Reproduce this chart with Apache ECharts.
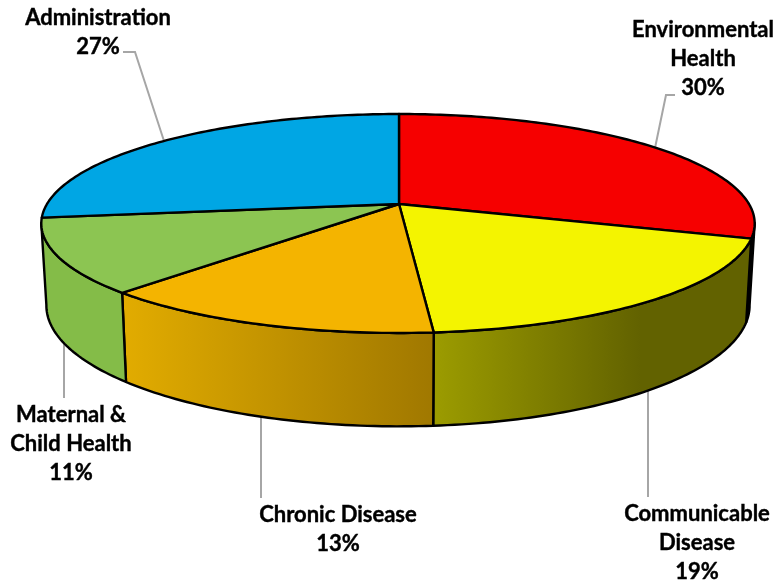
<!DOCTYPE html>
<html>
<head>
<meta charset="utf-8">
<style>
  html, body { margin: 0; padding: 0; background: #fff; }
  #chart { width: 782px; height: 587px; }
</style>
<script src="https://cdn.jsdelivr.net/npm/echarts@6/dist/echarts.min.js"></script>
</head>
<body>
<div id="chart"></div>
<script>
  const categories = ['Environmental\nHealth', 'Communicable\nDisease', 'Chronic Disease', 'Maternal &\nChild Health', 'Administration']
  // read from the slice edges, the labels show these rounded
  const shares = [30, 18.7, 13.3, 11, 27]
  const topColors = ['#f60000', '#f4f400', '#f4b400', '#8cc552', '#00a6e4']
  // wall shading, left colour then right colour
  const wallColors = [['#5c0000', '#5c0000'], ['#9c9c00', '#626200'], ['#e2ac00', '#a07800'], ['#84bc48', '#84bc48'], ['#007aa8', '#007aa8']]

  // the picture is a tilted pie in perspective, ECharts has no such thing so it is projected by hand
  const PERSP = 0.178
  const project = (deg, rim) => {
    let a = deg * Math.PI / 180
    let x = Math.sin(a)
    let y = -Math.cos(a)
    let s = 1 / (1 - PERSP * y)
    return rim === 'bottom'
      ? [399 + (x > 0 ? 345 : 347) * x * s, 284 + 117 * y * s]
      : [399 + (x > 0 ? 350 : 352) * x * s, 204 + 106 * y * s]
  }
  const arc = (from, to, rim) => {
    let pts = []
    let n = Math.max(2, Math.ceil(Math.abs(to - from)))
    for (let i = 0; i <= n; i++) pts.push(project(from + (to - from) * i / n, rim))
    return pts
  }

  let sum = shares.reduce((a, b) => a + b, 0)
  let acc = 0
  const sliceRows = shares.map((v, i) => {
    let row = [acc, acc + v, i]
    acc += v
    return row
  })

  // only this part of the rim faces the viewer
  const WALL_FROM = 100
  const WALL_TO = 260

  const renderSlice = (params, api) => {
    let start = api.value(0) / sum * 360
    let end = api.value(1) / sum * 360
    let idx = api.value(2)
    let children = []
    let from = Math.max(start, WALL_FROM)
    let to = Math.min(end, WALL_TO)
    if (to > from) {
      let wall = arc(from, to, 'top').concat(arc(to, from, 'bottom'))
      let xs = wall.map(p => p[0])
      let x1 = Math.min.apply(Math, xs)
      let x2 = idx === 1 ? 640 : Math.max.apply(Math, xs)
      children.push({
        type: 'polygon',
        shape: { points: wall },
        style: {
          fill: new echarts.graphic.LinearGradient(x1, 0, x2, 0, [
            { offset: 0, color: wallColors[idx][0] },
            { offset: 1, color: wallColors[idx][1] }
          ], true),
          stroke: '#000',
          lineWidth: 2.4,
          lineJoin: 'round'
        }
      })
    }
    children.push({
      type: 'polygon',
      shape: { points: [[399, 204]].concat(arc(start, end, 'top')) },
      style: { fill: topColors[idx], stroke: '#000', lineWidth: 2.4, lineJoin: 'round' }
    })
    return { type: 'group', children: children }
  }

  const labelStyle = {
    fontFamily: 'Lato, "Open Sans", sans-serif',
    fontWeight: 'bold',
    fontSize: 22,
    lineHeight: 29,
    fill: '#000',
    stroke: '#000',
    lineWidth: 0.4,
    textAlign: 'center',
    textVerticalAlign: 'middle'
  }
  const labelText = (i) => categories[i] + '\n' + Math.round(shares[i]) + '%'
  const label = (i, x, y) => ({
    type: 'text',
    x: x,
    y: y,
    z: 5,
    style: Object.assign({ text: labelText(i) }, labelStyle)
  })
  const leader = (points) => ({
    type: 'polyline',
    z: 1,
    shape: { points: points },
    style: { stroke: '#a6a6a6', lineWidth: 2, fill: null }
  })

  let chart = echarts.init(document.getElementById('chart'))
  chart.setOption({
    animation: false,
    backgroundColor: '#fff',
    series: [{
      type: 'custom',
      coordinateSystem: 'none',
      renderItem: renderSlice,
      data: sliceRows,
      silent: true
    }],
    graphic: [
      leader([[675, 95], [666, 95], [655, 148]]),
      leader([[648, 388], [648, 497]]),
      leader([[261, 416], [261, 498]]),
      leader([[64, 342], [64, 398]]),
      leader([[123, 52], [135, 52], [164, 141]]),
      label(0, 703, 59),
      label(1, 697, 543),
      label(2, 338, 529),
      label(3, 71, 444),
      label(4, 98, 32)
    ]
  })
</script>
</body>
</html>
